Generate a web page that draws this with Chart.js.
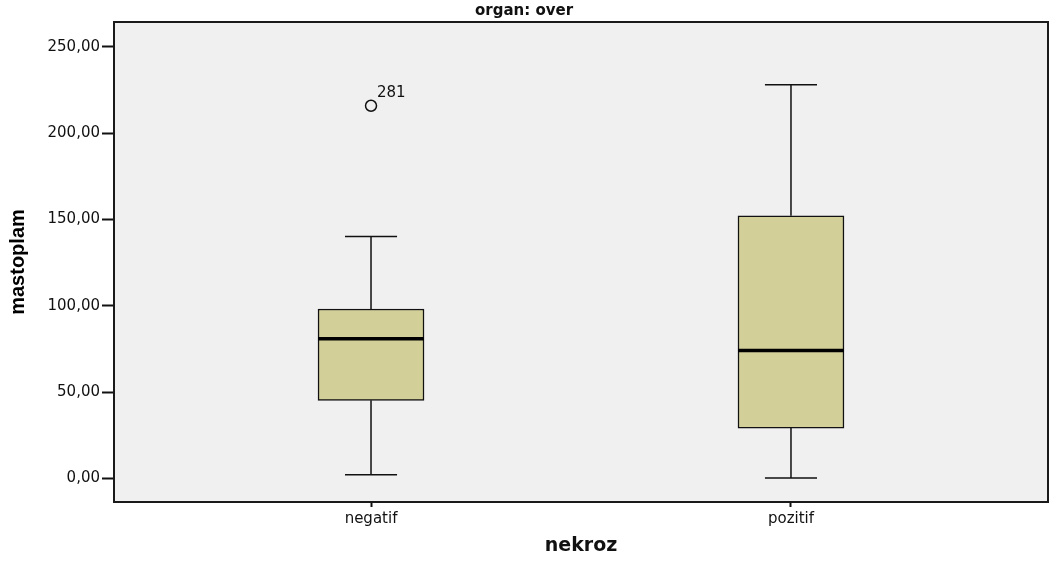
<!DOCTYPE html>
<html>
<head>
<meta charset="utf-8">
<script src="https://cdn.jsdelivr.net/npm/chart.js@4.4.1/dist/chart.umd.min.js"></script>
<style>
  body { margin: 0; background: #fff; }
</style>
</head>
<body>
<canvas id="boxChart" width="1051" height="563"></canvas>
<script>
// box plot values (mastoplam by nekroz, organ: over)
const categories = ['negatif', 'pozitif'];
const whiskerLow = [2.1, 0.2];
const q1 = [45.2, 29.1];
const median = [80.9, 74.1];
const q3 = [98.1, 152.1];
const whiskerHigh = [140.0, 228.0];

const outlierGroup = [0];
const outlierValue = [215.8];
const outlierLabel = ['281'];

const yTicks = [0, 50, 100, 150, 200, 250];

const boxHalf = 0.126;  // half box width in category units
const capHalf = 0.062;  // half whisker cap width

// one line segment, followed by a gap so segments don't join
function seg(x1, y1, x2, y2) {
    return [{ x: x1, y: y1 }, { x: x2, y: y2 }, { x: x2, y: null }];
}

const whiskerPts = [];
const medianPts = [];
categories.forEach((c, i) => {
    const x = i + 1;
    whiskerPts.push(...seg(x, q3[i], x, whiskerHigh[i]));
    whiskerPts.push(...seg(x - capHalf, whiskerHigh[i], x + capHalf, whiskerHigh[i]));
    whiskerPts.push(...seg(x, q1[i], x, whiskerLow[i]));
    whiskerPts.push(...seg(x - capHalf, whiskerLow[i], x + capHalf, whiskerLow[i]));
    medianPts.push(...seg(x - boxHalf, median[i], x + boxHalf, median[i]));
});

const boxPts = categories.map((c, i) => ({ x: i + 1, y: [q1[i], q3[i]] }));
const outlierPts = outlierGroup.map((g, k) => ({ x: g + 1, y: outlierValue[k] }));

const fmt = v => v.toFixed(2).replace('.', ',');

// plot background, frame and outlier case numbers
const plotDecor = {
    id: 'plotDecor',
    beforeDatasetsDraw(chart) {
        const { ctx, chartArea: a } = chart;
        ctx.save();
        ctx.fillStyle = '#f0f0f0';
        ctx.fillRect(a.left, a.top, a.right - a.left, a.bottom - a.top);
        ctx.restore();
    },
    afterDatasetsDraw(chart) {
        const { ctx, chartArea: a, scales } = chart;
        ctx.save();
        ctx.strokeStyle = '#1a1a1a';
        ctx.lineWidth = 2;
        ctx.strokeRect(a.left, a.top, a.right - a.left, a.bottom - a.top);
        ctx.fillStyle = '#111';
        ctx.font = '15px "DejaVu Sans"';
        ctx.textBaseline = 'alphabetic';
        outlierPts.forEach((p, k) => {
            const px = scales.x.getPixelForValue(p.x);
            const py = scales.y.getPixelForValue(p.y);
            ctx.fillText(outlierLabel[k], px + 6, py - 9);
        });
        ctx.restore();
    }
};

const ctx = document.getElementById('boxChart').getContext('2d');
new Chart(ctx, {
    type: 'bar',
    data: {
        datasets: [
            {
                type: 'line',
                data: outlierPts,
                showLine: false,
                pointStyle: 'circle',
                pointRadius: 5.5,
                pointBorderWidth: 1.5,
                pointBorderColor: '#111',
                pointBackgroundColor: 'rgba(0,0,0,0)',
                order: 0
            },
            {
                type: 'line',
                data: medianPts,
                borderColor: '#000',
                borderWidth: 3.5,
                pointRadius: 0,
                spanGaps: false,
                order: 1
            },
            {
                type: 'line',
                data: whiskerPts,
                borderColor: '#111',
                borderWidth: 1.5,
                pointRadius: 0,
                spanGaps: false,
                order: 2
            },
            {
                type: 'bar',
                data: boxPts,
                backgroundColor: '#d3cf99',
                borderColor: '#111',
                borderWidth: 1.5,
                borderSkipped: false,
                barThickness: 106,
                order: 3
            }
        ]
    },
    options: {
        responsive: false,
        animation: false,
        layout: { autoPadding: false, padding: { right: 3 } },
        plugins: {
            legend: { display: false },
            tooltip: { enabled: false },
            title: {
                display: true,
                text: 'organ: over',
                color: '#111',
                font: { family: 'DejaVu Sans', size: 15, weight: 'bold' },
                padding: { top: 2, bottom: 2 }
            }
        },
        scales: {
            x: {
                type: 'linear',
                offset: false,
                min: 0.388,
                max: 2.612,
                afterBuildTicks: s => { s.ticks = categories.map((c, i) => ({ value: i + 1 })); },
                afterFit: s => { s.height = 61; s.paddingLeft = 0; s.paddingRight = 0; },
                grid: { display: true, offset: false, drawOnChartArea: false, drawTicks: true, tickLength: 5, tickWidth: 2, color: '#111' },
                border: { display: false },
                ticks: {
                    callback: v => categories[v - 1],
                    color: '#111',
                    padding: 3,
                    maxRotation: 0,
                    font: { family: 'DejaVu Sans', size: 15 }
                },
                title: {
                    display: true,
                    text: 'nekroz',
                    color: '#111',
                    font: { family: 'DejaVu Sans', size: 19, weight: 'bold' },
                    padding: { top: 0, bottom: 6 }
                }
            },
            y: {
                min: -13.7,
                max: 264.3,
                afterBuildTicks: s => { s.ticks = yTicks.map(v => ({ value: v })); },
                afterFit: s => { s.width = 114; },
                grid: { display: true, drawOnChartArea: false, drawTicks: true, tickLength: 12, tickWidth: 2, color: '#111' },
                border: { display: false },
                ticks: {
                    callback: v => fmt(v),
                    color: '#111',
                    padding: 2,
                    font: { family: 'DejaVu Sans', size: 15 }
                },
                title: {
                    display: true,
                    text: 'mastoplam',
                    color: '#000',
                    font: { family: 'Liberation Sans', size: 20, weight: 'bold' },
                    padding: { top: 6, bottom: 0 }
                }
            }
        }
    },
    plugins: [plotDecor]
});
</script>
</body>
</html>
